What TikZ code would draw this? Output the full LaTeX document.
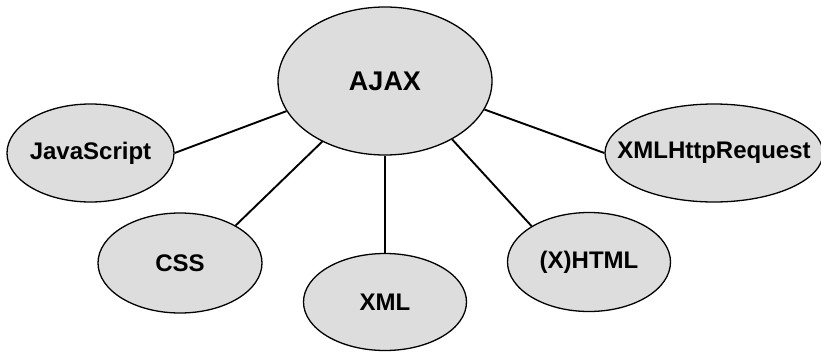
\documentclass[tikz,border=0pt]{standalone}
\usepackage{fontspec}
\setmainfont{Liberation Sans}
\usepackage{tikz}
\usetikzlibrary{shapes.geometric}

\definecolor{bubblegray}{HTML}{DDDDDD}

\begin{document}
\begin{tikzpicture}[x=1pt,y=-1pt,
	topic/.style={draw,
		ellipse,
		fill=bubblegray,
		line width=1.3pt,
		inner sep=0pt,
		font=\fontsize{24}{28}\selectfont\bfseries,
		execute at begin node=\hbox to 0pt\bgroup\hss,
		execute at end node=\hss\egroup},
	link/.style={line width=1.9pt}]
	\useasboundingbox (0,0) rectangle (821,351);

	% AJAX
	\node [topic,
		minimum width=214pt,
		minimum height=148pt,
		font=\fontsize{27}{32}\selectfont\bfseries
		] (ajax) at (385,81) {AJAX};

	% JavaScript
	\node [topic,
		minimum width=167pt,
		minimum height=98pt
		] (js) at (90.5,153) {JavaScript};

	% CSS
	\node [topic,
		minimum width=164pt,
		minimum height=100pt
		] (css) at (180,263) {CSS};

	% XML
	\node [topic,
		minimum width=163pt,
		minimum height=97pt
		] (xml) at (385,302) {XML};

	% (X)HTML
	\node [topic,
		minimum width=163pt,
		minimum height=99pt
		] (xhtml) at (589,262) {(X)HTML};

	% XMLHttpRequest
	\node [topic,
		minimum width=218pt,
		minimum height=98pt
		] (xhr) at (714,153) {XMLHttpRequest};

	% Lines
	\draw[link] (js.east) -- (ajax.197);
	\draw[link] (css.34) -- (ajax.224);
	\draw[link] (xml.north) -- (ajax.south);
	\draw[link] (xhtml.148) -- (ajax.319);
	\draw[link] (xhr.west) -- (ajax.344);

\end{tikzpicture}
\end{document}
